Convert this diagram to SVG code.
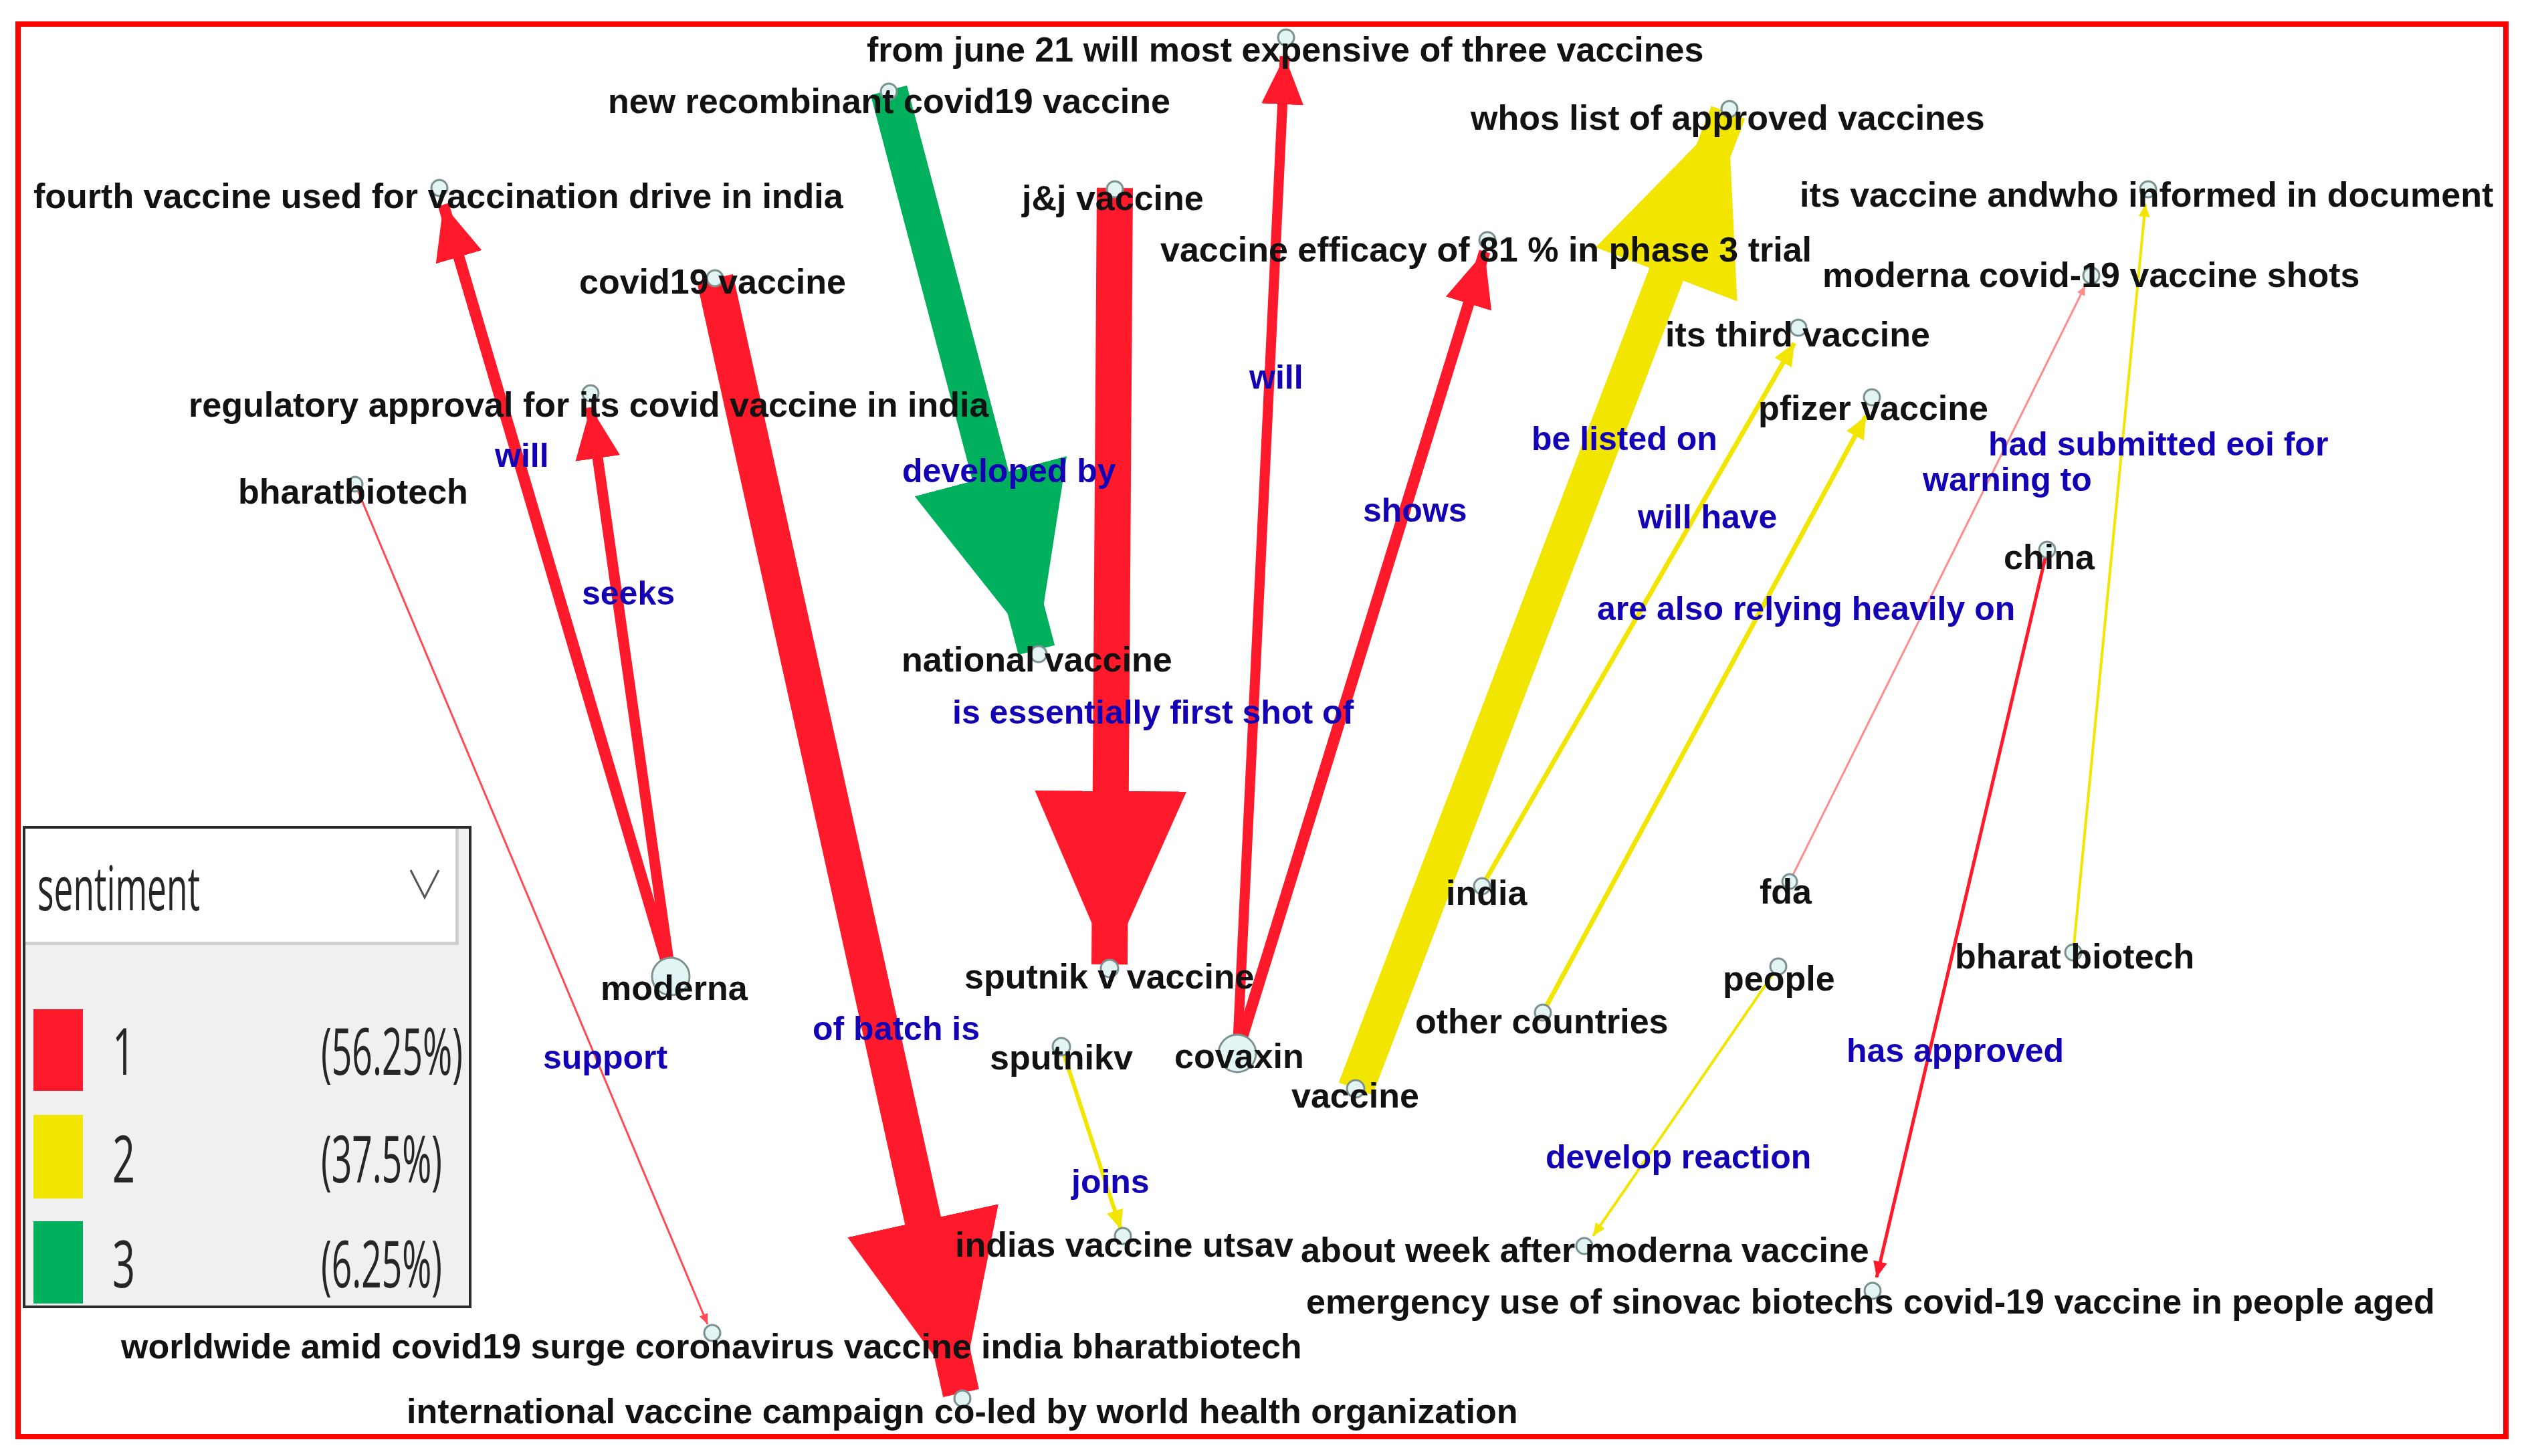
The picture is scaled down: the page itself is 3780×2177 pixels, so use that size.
<svg xmlns="http://www.w3.org/2000/svg" width="3780" height="2177" viewBox="0 0 3780 2177">
<style>
.n{font-family:"Liberation Sans",Arial,sans-serif;font-weight:bold;font-size:52px;fill:#121212}
.l{font-family:"Liberation Sans",Arial,sans-serif;font-weight:bold;font-size:50px;fill:#1400b4}
.c{fill:#e3f4f4;stroke:#7d9191;stroke-width:3}
.ed{fill:none;stroke-linecap:butt}
.red{stroke:#ff1a2b;marker-end:url(#mR)}
.yel{stroke:#f2e600;marker-end:url(#mY)}
.grn{stroke:#00b05c;marker-end:url(#mG)}
.lred{stroke:#ff4a55;marker-end:url(#mLR)}
.pink{stroke:#ff8c8c;marker-end:url(#mP)}
.lg{font-family:"Open Sans","Noto Sans","DejaVu Sans",sans-serif;font-weight:normal;fill:#262626}
</style>
<defs>
<marker id="mR" viewBox="0 0 48 42" refX="48" refY="21" markerWidth="4.8" markerHeight="4.2" orient="auto" markerUnits="strokeWidth"><path d="M0,0 L48,21 L0,42 Z" fill="#ff1a2b"/></marker>
<marker id="mY" viewBox="0 0 48 42" refX="48" refY="21" markerWidth="4.8" markerHeight="4.2" orient="auto" markerUnits="strokeWidth"><path d="M0,0 L48,21 L0,42 Z" fill="#f2e600"/></marker>
<marker id="mG" viewBox="0 0 48 42" refX="48" refY="21" markerWidth="4.8" markerHeight="4.2" orient="auto" markerUnits="strokeWidth"><path d="M0,0 L48,21 L0,42 Z" fill="#00b05c"/></marker>
<marker id="mLR" viewBox="0 0 48 42" refX="48" refY="21" markerWidth="5.5" markerHeight="4.5" orient="auto" markerUnits="strokeWidth"><path d="M0,0 L48,21 L0,42 Z" fill="#ff4a55"/></marker>
<marker id="mP" viewBox="0 0 48 42" refX="48" refY="21" markerWidth="5" markerHeight="4.2" orient="auto" markerUnits="strokeWidth"><path d="M0,0 L48,21 L0,42 Z" fill="#ff8c8c"/></marker>
</defs>
<rect x="0" y="0" width="3780" height="2177" fill="#ffffff"/>
<rect x="27" y="36" width="3720" height="2112" fill="none" stroke="#ff0000" stroke-width="8"/>

<g id="edges">
<line class="ed red" x1="1069" y1="416" x2="1437" y2="2083" stroke-width="55"/>
<line class="ed red" x1="1667" y1="281" x2="1659" y2="1442" stroke-width="54"/>
<line class="ed grn" x1="1329" y1="135" x2="1550" y2="972" stroke-width="56"/>
<line class="ed yel" x1="2027" y1="1628" x2="2584" y2="168" stroke-width="54"/>
<line class="ed red" x1="1003" y1="1460" x2="663" y2="306" stroke-width="17"/>
<line class="ed red" x1="1003" y1="1460" x2="883" y2="609" stroke-width="16"/>
<line class="ed red" x1="1850" y1="1575" x2="1921" y2="84" stroke-width="15"/>
<line class="ed red" x1="1850" y1="1575" x2="2220" y2="376" stroke-width="17"/>
<line class="ed yel" x1="2216" y1="1325" x2="2683" y2="513" stroke-width="7"/>
<line class="ed yel" x1="2307" y1="1514" x2="2790" y2="622" stroke-width="7"/>
<line class="ed yel" x1="3100" y1="1424" x2="3208" y2="305" stroke-width="4"/>
<line class="ed pink" x1="2676" y1="1318" x2="3118" y2="427" stroke-width="3"/>
<line class="ed red" x1="3061" y1="822" x2="2806" y2="1910" stroke-width="5"/>
<line class="ed lred" x1="531" y1="724" x2="1058" y2="1980" stroke-width="3"/>
<line class="ed yel" x1="1587" y1="1565" x2="1676" y2="1838" stroke-width="6"/>
<line class="ed yel" x1="2659" y1="1445" x2="2382" y2="1848" stroke-width="4"/>
</g>

<g id="edge-labels">
<text class="l" x="740" y="698">will</text>
<text class="l" x="870" y="904">seeks</text>
<text class="l" x="1349" y="721">developed by</text>
<text class="l" x="1868" y="581">will</text>
<text class="l" x="2038" y="780">shows</text>
<text class="l" x="2290" y="673">be listed on</text>
<text class="l" x="2449" y="790">will have</text>
<text class="l" x="2388" y="927">are also relying heavily on</text>
<text class="l" x="2973" y="681">had submitted eoi for</text>
<text class="l" x="2875" y="734">warning to</text>
<text class="l" x="1424" y="1082">is essentially first shot of</text>
<text class="l" x="812" y="1598">support</text>
<text class="l" x="1215" y="1555">of batch is</text>
<text class="l" x="1602" y="1784">joins</text>
<text class="l" x="2311" y="1747">develop reaction</text>
<text class="l" x="2761" y="1588">has approved</text>
</g>

<g id="n-fromjune"><circle class="c" cx="1923" cy="56" r="12"/><text class="n" x="1296" y="92">from june 21 will most expensive of three vaccines</text></g>
<g id="n-newrecombinant"><circle class="c" cx="1329" cy="137" r="12"/><text class="n" x="909" y="169">new recombinant covid19 vaccine</text></g>
<g id="n-whoslist"><circle class="c" cx="2586" cy="163" r="12"/><text class="n" x="2199" y="194">whos list of approved vaccines</text></g>
<g id="n-fourthvaccine"><circle class="c" cx="657" cy="281" r="12"/><text class="n" x="50" y="311">fourth vaccine used for vaccination drive in india</text></g>
<g id="n-jj"><circle class="c" cx="1667" cy="283" r="12"/><text class="n" x="1528" y="314">j&amp;j vaccine</text></g>
<g id="n-itsvaccine"><circle class="c" cx="3212" cy="283" r="12"/><text class="n" x="2691" y="309">its vaccine andwho informed in document</text></g>
<g id="n-efficacy"><circle class="c" cx="2224" cy="359" r="12"/><text class="n" x="1735" y="391">vaccine efficacy of 81 % in phase 3 trial</text></g>
<g id="n-covid19vaccine"><circle class="c" cx="1069" cy="416" r="12"/><text class="n" x="866" y="439">covid19 vaccine</text></g>
<g id="n-modernashots"><circle class="c" cx="3127" cy="412" r="12"/><text class="n" x="2725" y="429">moderna covid-19 vaccine shots</text></g>
<g id="n-itsthird"><circle class="c" cx="2689" cy="490" r="12"/><text class="n" x="2490" y="518">its third vaccine</text></g>
<g id="n-regulatory"><circle class="c" cx="883" cy="588" r="12"/><text class="n" x="282" y="623">regulatory approval for its covid vaccine in india</text></g>
<g id="n-pfizer"><circle class="c" cx="2799" cy="594" r="12"/><text class="n" x="2629" y="628">pfizer vaccine</text></g>
<g id="n-bharatbiotech1"><circle class="c" cx="531" cy="724" r="11"/><text class="n" x="356" y="753">bharatbiotech</text></g>
<g id="n-china"><circle class="c" cx="3061" cy="822" r="12"/><text class="n" x="2996" y="851">china</text></g>
<g id="n-national"><circle class="c" cx="1553" cy="978" r="12"/><text class="n" x="1348" y="1004">national vaccine</text></g>
<g id="n-india"><circle class="c" cx="2216" cy="1325" r="12"/><text class="n" x="2162" y="1353">india</text></g>
<g id="n-fda"><circle class="c" cx="2676" cy="1318" r="11"/><text class="n" x="2631" y="1351">fda</text></g>
<g id="n-moderna"><circle class="c" cx="1003" cy="1460" r="28"/><text class="n" x="898" y="1495">moderna</text></g>
<g id="n-sputnikvvaccine"><circle class="c" cx="1659" cy="1448" r="13"/><text class="n" x="1442" y="1478">sputnik v vaccine</text></g>
<g id="n-people"><circle class="c" cx="2659" cy="1445" r="12"/><text class="n" x="2576" y="1481">people</text></g>
<g id="n-bharatbiotech2"><circle class="c" cx="3100" cy="1424" r="12"/><text class="n" x="2923" y="1448">bharat biotech</text></g>
<g id="n-othercountries"><circle class="c" cx="2307" cy="1514" r="12"/><text class="n" x="2116" y="1545">other countries</text></g>
<g id="n-sputnikv"><circle class="c" cx="1587" cy="1565" r="13"/><text class="n" x="1480" y="1599">sputnikv</text></g>
<g id="n-covaxin"><circle class="c" cx="1850" cy="1575" r="28"/><text class="n" x="1756" y="1597">covaxin</text></g>
<g id="n-vaccine"><circle class="c" cx="2027" cy="1628" r="13"/><text class="n" x="1931" y="1656">vaccine</text></g>
<g id="n-indiasutsav"><circle class="c" cx="1679" cy="1848" r="12"/><text class="n" x="1428" y="1879">indias vaccine utsav</text></g>
<g id="n-aboutweek"><circle class="c" cx="2369" cy="1863" r="12"/><text class="n" x="1945" y="1887">about week after moderna vaccine</text></g>
<g id="n-emergency"><circle class="c" cx="2800" cy="1930" r="12"/><text class="n" x="1953" y="1964">emergency use of sinovac biotechs covid-19 vaccine in people aged</text></g>
<g id="n-worldwide"><circle class="c" cx="1065" cy="1993" r="12"/><text class="n" x="181" y="2031">worldwide amid covid19 surge coronavirus vaccine india bharatbiotech</text></g>
<g id="n-international"><circle class="c" cx="1439" cy="2091" r="12"/><text class="n" x="608" y="2128">international vaccine campaign co-led by world health organization</text></g>

<g id="legend">
<rect x="36" y="1237" width="667" height="717" fill="#f0f0f0" stroke="#2a2a2a" stroke-width="4"/>
<rect x="38" y="1239" width="648" height="174" fill="#cfcfcf"/>
<rect x="38" y="1239" width="643" height="169" fill="#ffffff"/>
<text class="lg" x="56" y="1361" font-size="92" textLength="243" lengthAdjust="spacingAndGlyphs">sentiment</text>
<polyline points="614,1301 635,1342 656,1301" fill="none" stroke="#555555" stroke-width="3"/>
<rect x="50" y="1509" width="74" height="122" fill="#ff1a2b"/>
<rect x="50" y="1667" width="74" height="125" fill="#f2e600"/>
<rect x="50" y="1826" width="74" height="123" fill="#00b05c"/>
<text class="lg" x="168" y="1607" font-size="97" textLength="34" lengthAdjust="spacingAndGlyphs">1</text>
<text class="lg" x="168" y="1768" font-size="97" textLength="34" lengthAdjust="spacingAndGlyphs">2</text>
<text class="lg" x="168" y="1925" font-size="97" textLength="34" lengthAdjust="spacingAndGlyphs">3</text>
<text class="lg" x="480" y="1607" font-size="97" textLength="212" lengthAdjust="spacingAndGlyphs">(56.25%)</text>
<text class="lg" x="480" y="1768" font-size="97" textLength="181" lengthAdjust="spacingAndGlyphs">(37.5%)</text>
<text class="lg" x="480" y="1925" font-size="97" textLength="181" lengthAdjust="spacingAndGlyphs">(6.25%)</text>
</g>
</svg>
